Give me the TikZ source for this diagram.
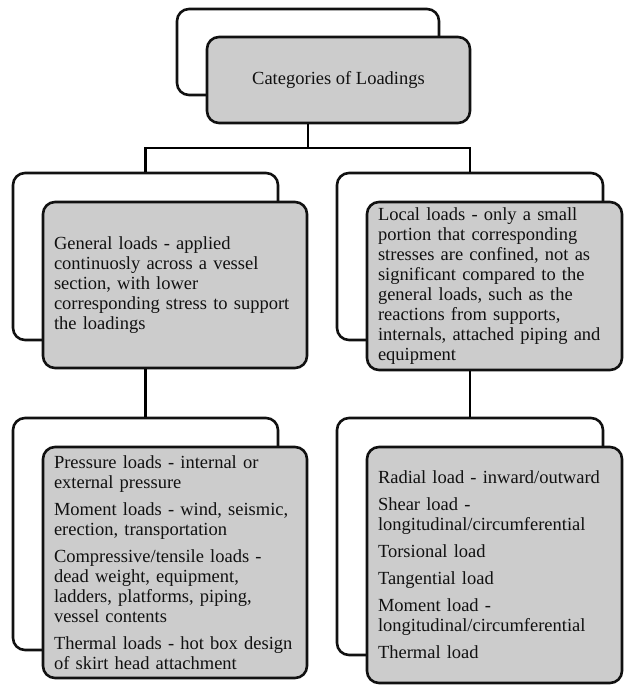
\documentclass[tikz,border=0pt]{standalone}
\usepackage{fontspec}
\setmainfont{Liberation Serif}
\usepackage{tikz}
\usetikzlibrary{positioning,calc}
\definecolor{ink}{HTML}{111111}
\definecolor{boxfill}{HTML}{CCCCCC}
\newcommand{\Lx}{145.5}
\newcommand{\Rx}{470}

\begin{document}
\begin{tikzpicture}[x=1pt,y=-1pt, line width=2.6pt, every node/.style={text=ink, font=\fontsize{18.5}{20}\selectfont},
  backbox/.style={draw=ink, rounded corners=12pt, inner sep=0pt},
  frontbox/.style={draw=ink, fill=boxfill, rounded corners=12pt, inner xsep=11pt, inner ysep=0pt, align=left}]
\useasboundingbox (0,0) rectangle (624,686);
% ---- TIER 1: root category, shadow frame behind the grey box
\node[backbox, minimum width=262pt, minimum height=86pt] (catbk) at (308,52) {};
\node[frontbox, align=center, minimum width=263pt, minimum height=86pt] (cat) at (338.5,80) {Categories of Loadings};
% ---- TIER 2: general vs local loads
\node[backbox, minimum width=265pt, minimum height=167pt] (genbk) at (\Lx,256.5) {};
\node[backbox, minimum width=266pt, minimum height=167pt] (locbk) at (\Rx,256.5) {};
\node[frontbox, text width=242pt, minimum height=166pt] (gen) at (175,285)
  {General loads - applied\\ continuosly across a vessel\\ section, with lower\\ corresponding stress to support\\ the loadings};
\node[frontbox, text width=233pt, minimum height=168pt] (loc) at (494.5,286)
  {Local loads - only a small\\ portion that corresponding\\ stresses are confined, not as\\ significant compared to the\\ general loads, such as the\\ reactions from supports,\\ internals, attached piping and\\ equipment};
% ---- TIER 3: lists of load types
\node[backbox, minimum width=265pt, minimum height=232pt] (genlbk) at (\Lx,534) {};
\node[backbox, minimum width=266pt, minimum height=237pt] (loclbk) at (\Rx,536.5) {};
\node[frontbox, text width=242pt, minimum height=231pt] (genl) at (175,562.5)
  {Pressure loads - internal or\\ external pressure\\[7pt]
   Moment loads - wind, seismic,\\ erection, transportation\\[7pt]
   Compressive/tensile loads -\\ dead weight, equipment,\\ ladders, platforms, piping,\\ vessel contents\\[7pt]
   Thermal loads - hot box design\\ of skirt head attachment};
\node[frontbox, text width=233pt, minimum height=236pt] (locl) at (494.5,565)
  {Radial load - inward/outward\\[7pt]
   Shear load -\\ longitudinal/circumferential\\[7pt]
   Torsional load\\[7pt]
   Tangential load\\[7pt]
   Moment load -\\ longitudinal/circumferential\\[7pt]
   Thermal load};
% ---- CONNECTORS: elbow tree from the back frames
\coordinate (bar) at (308,148);
\draw (catbk.center |- cat.south) -- (bar);
\draw (genbk.north) |- (bar) -| (locbk.north);
\draw (genbk.center |- gen.south) -- (genlbk.north);
\draw (locbk.center |- loc.south) -- (loclbk.north);
\end{tikzpicture}
\end{document}
